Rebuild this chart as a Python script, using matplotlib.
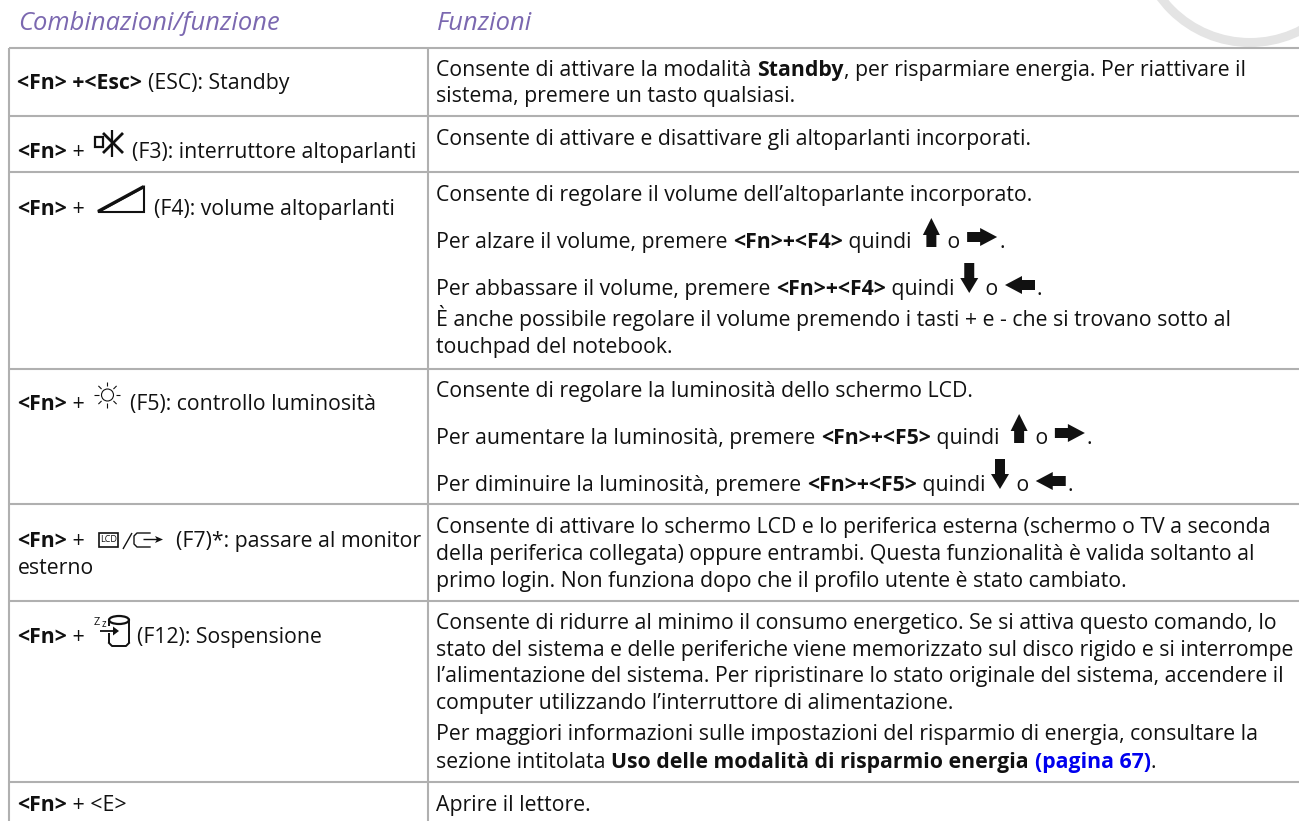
import matplotlib
matplotlib.use("Agg")
import matplotlib.pyplot as plt
from matplotlib.patches import Polygon, Rectangle, Wedge, Circle, Ellipse

plt.rcParams['font.family'] = ['Open Sans', 'Noto Sans', 'DejaVu Sans']

FS = 15.3  # body text size in pt
TEXT_DROP = 3  # Open Sans sits a little high against the reference baselines

# table structure
header_labels = ['Combinazioni/funzione', 'Funzioni']
row_lines_y = [48, 116, 172, 369, 504, 601, 782]

# left column: baseline, runs. 'b' bold, 'n' normal, 'l' link, '@' is a key icon
left_col = [
    (86, [('<Fn> +<Esc> ', 'b'), ('(ESC): Standby', 'n')]),
    (155, [('<Fn>', 'b'), (' +', 'n'), ('speaker_off', '@'), ('(F3): interruttore altoparlanti', 'n')]),
    (212, [('<Fn>', 'b'), (' +', 'n'), ('volume', '@'), ('(F4): volume altoparlanti', 'n')]),
    (407, [('<Fn>', 'b'), (' +', 'n'), ('sun', '@'), ('(F5): controllo luminosità', 'n')]),
    (544, [('<Fn>', 'b'), (' +', 'n'), ('monitor', '@'), ('(F7)*: passare al monitor', 'n')]),
    (571, [('esterno', 'n')]),
    (640, [('<Fn>', 'b'), (' +', 'n'), ('sleep', '@'), ('(F12): Sospensione', 'n')]),
    (808, [('<Fn>', 'b'), (' + <E>', 'n')]),
]

# right column
right_col = [
    (73, [('Consente di attivare la modalità ', 'n'), ('Standby', 'b'), (', per risparmiare energia. Per riattivare il', 'n')]),
    (99, [('sistema, premere un tasto qualsiasi.', 'n')]),
    (142, [('Consente di attivare e disattivare gli altoparlanti incorporati.', 'n')]),
    (198, [('Consente di regolare il volume dell’altoparlante incorporato.', 'n')]),
    (245, [('Per alzare il volume, premere ', 'n'), ('<Fn>+<F4>', 'b'), (' quindi ', 'n'), ('up', '@'), (' o ', 'n'), ('right', '@'), ('.', 'n')]),
    (292, [('Per abbassare il volume, premere ', 'n'), ('<Fn>+<F4>', 'b'), (' quindi ', 'n'), ('down', '@'), (' o ', 'n'), ('left', '@'), ('.', 'n')]),
    (323, [('È anche possibile regolare il volume premendo i tasti + e - che si trovano sotto al', 'n')]),
    (350, [('touchpad del notebook.', 'n')]),
    (394, [('Consente di regolare la luminosità dello schermo LCD.', 'n')]),
    (441, [('Per aumentare la luminosità, premere ', 'n'), ('<Fn>+<F5>', 'b'), (' quindi ', 'n'), ('up', '@'), (' o ', 'n'), ('right', '@'), ('.', 'n')]),
    (488, [('Per diminuire la luminosità, premere ', 'n'), ('<Fn>+<F5>', 'b'), (' quindi ', 'n'), ('down', '@'), (' o ', 'n'), ('left', '@'), ('.', 'n')]),
    (530, [('Consente di attivare lo schermo LCD e lo periferica esterna (schermo o TV a seconda', 'n')]),
    (557, [('della periferica collegata) oppure entrambi. Questa funzionalità è valida soltanto al', 'n')]),
    (584, [('primo login. Non funziona dopo che il profilo utente è stato cambiato.', 'n')]),
    (626, [('Consente di ridurre al minimo il consumo energetico. Se si attiva questo comando, lo', 'n')]),
    (653, [('stato del sistema e delle periferiche viene memorizzato sul disco rigido e si interrompe', 'n')]),
    (679, [('l’alimentazione del sistema. Per ripristinare lo stato originale del sistema, accendere il', 'n')]),
    (706, [('computer utilizzando l’interruttore di alimentazione.', 'n')]),
    (737, [('Per maggiori informazioni sulle impostazioni del risparmio di energia, consultare la', 'n')]),
    (765, [('sezione intitolata ', 'n'), ('Uso delle modalità di risparmio energia ', 'b'), ('(pagina 67)', 'l'), ('.', 'n')]),
    (808, [('Aprire il lettore.', 'n')]),
]

# where the text restarts after each key icon in the left column
after_icon = {'speaker_off': 132, 'volume': 154, 'sun': 130, 'monitor': 176, 'sleep': 137}
# arrows flow with the text, these are their advance widths
arrow_widths = {'up': 25, 'down': 20, 'right': 33, 'left': 33}

GRID = '#b0b0b0'
INK = '#111111'

fig = plt.figure(figsize=(12.99, 8.21), dpi=100)
ax = fig.add_axes([0, 0, 1, 1])
ax.set_xlim(0, 1299)
ax.set_ylim(821, 0)
ax.axis('off')

# corner ring behind the table
ax.add_patch(Wedge((1250, -68.5), 115.5, 0, 180, width=9, color='#e4e4e4', lw=0))

for y in row_lines_y:
    ax.plot([9, 1299], [y, y], color=GRID, lw=1.5, solid_capstyle='butt')
ax.plot([9, 9], [48, 821], color=GRID, lw=1.5, solid_capstyle='butt')
ax.plot([428, 428], [48, 821], color=GRID, lw=1.5, solid_capstyle='butt')

ax.text(18.5, 30, header_labels[0], color='#7b68b0', fontsize=18.4, style='italic', va='baseline')
ax.text(437, 30, header_labels[1], color='#7b68b0', fontsize=18.4, style='italic', va='baseline')

renderer = fig.canvas.get_renderer()


def run_width(s, **kw):
    # pad with bars so spaces at the ends count
    t1 = ax.text(0, 0, '|' + s + '|', fontsize=FS, **kw)
    t2 = ax.text(0, 0, '||', fontsize=FS, **kw)
    w = t1.get_window_extent(renderer).width - t2.get_window_extent(renderer).width
    t1.remove()
    t2.remove()
    return w


def poly(pts):
    ax.add_patch(Polygon(pts, closed=True, fc=INK, ec='none'))


def seg(x0, y0, x1, y1, lw=1.0):
    ax.plot([x0, x1], [y0, y1], color=INK, lw=lw, solid_capstyle='butt')


def draw_arrow(name, x, y):
    if name == 'up':
        c = x + 14
        poly([(c, y - 27), (c + 8.5, y - 10), (c + 5, y - 10), (c + 5, y + 2),
              (c - 5, y + 2), (c - 5, y - 10), (c - 8.5, y - 10)])
    elif name == 'down':
        c = x + 9
        poly([(c, y + 1), (c + 9, y - 14), (c + 5, y - 14), (c + 5, y - 29),
              (c - 5, y - 29), (c - 5, y - 14), (c - 9, y - 14)])
    elif name == 'right':
        m = y - 8
        x += 1
        poly([(x, m - 5), (x + 13, m - 5), (x + 13, m - 9), (x + 30, m), (x + 13, m + 9),
              (x + 13, m + 5), (x, m + 5)])
    elif name == 'left':
        m = y - 7
        x += 1
        poly([(x + 30, m - 5), (x + 17, m - 5), (x + 17, m - 9), (x, m), (x + 17, m + 9),
              (x + 17, m + 5), (x + 30, m + 5)])


def draw_key_icon(name, y):
    if name == 'speaker_off':
        ax.add_patch(Rectangle((95.5, y - 18), 8, 10, fc='none', ec=INK, lw=1.6))
        seg(112.5, y - 25, 112.5, y + 2, 1.6)
        seg(103, y - 22, 123, y - 2, 2.0)
        seg(123, y - 22, 103, y - 2, 2.0)
    elif name == 'volume':
        ax.add_patch(Polygon([(98, y), (144, y - 25), (144, y)], closed=True, fc='none', ec=INK, lw=1.5))
        seg(98, y - 0.5, 144, y - 25.5, 2.4)
    elif name == 'sun':
        cx, cy = 107.5, y - 12
        ax.add_patch(Circle((cx, cy), 6, fc='none', ec=INK, lw=0.8))
        for dx, dy in [(0, 1), (0, -1), (1, 0), (-1, 0), (.7, .7), (-.7, .7), (.7, -.7), (-.7, -.7)]:
            seg(cx + 8.5 * dx, cy + 8.5 * dy, cx + 13 * dx, cy + 13 * dy, 0.8)
    elif name == 'monitor':
        ax.add_patch(Rectangle((99, y - 11), 19, 14, fc='none', ec=INK, lw=1.2))
        ax.text(108.5, y - 4, 'LCD', fontsize=6.5, ha='center', va='center', color=INK)
        seg(123, y + 5, 132, y - 11, 1.0)
        ax.plot([150, 137, 134, 134, 137, 150], [y - 11, y - 11, y - 8, y + 0, y + 3, y + 3], color=INK, lw=1.0)
        seg(143, y - 4.5, 158, y - 4.5, 1.0)
        poly([(163, y - 4.5), (155, y - 8), (157, y - 4.5), (155, y - 1)])
    elif name == 'sleep':
        ax.text(94, y - 15, 'Z', fontsize=8, va='baseline', color=INK)
        ax.text(101.5, y - 13, 'z', fontsize=7, va='baseline', color=INK)
        seg(100, y - 9, 115, y - 9, 1.3)
        poly([(119, y - 9), (113, y - 13.5), (113, y - 4.5)])
        ax.add_patch(Ellipse((119, y - 20), 20, 8, fc='none', ec=INK, lw=1.6))
        seg(109, y - 20, 109, y - 14, 1.4)
        seg(129, y - 20, 129, y + 3, 1.4)
        seg(109, y - 7, 109, y + 3, 1.4)
        ax.plot([109, 112, 126, 129], [y + 3, y + 6, y + 6, y + 3], color=INK, lw=1.4)


def draw_line(x, y, runs):
    for s, kind in runs:
        if kind == '@':
            if s in after_icon:
                draw_key_icon(s, y)
                x = after_icon[s]
            else:
                draw_arrow(s, x, y)
                x += arrow_widths[s]
            continue
        kw = {'color': INK}
        if kind == 'b':
            kw['weight'] = 'bold'
        elif kind == 'l':
            kw = {'color': '#0000ee', 'weight': 'bold'}
        ax.text(x, y + TEXT_DROP, s, fontsize=FS, va='baseline', **kw)
        x += run_width(s, **{k: v for k, v in kw.items() if k != 'color'})


for y, runs in left_col:
    draw_line(17.5, y, runs)
for y, runs in right_col:
    draw_line(436.5, y, runs)

fig.savefig('out.png', dpi=100)
